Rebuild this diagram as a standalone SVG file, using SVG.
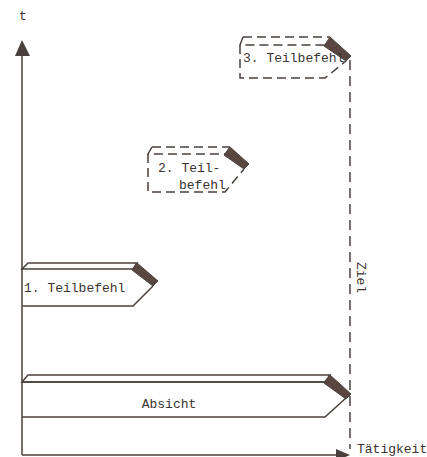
<svg xmlns="http://www.w3.org/2000/svg" width="427" height="457" viewBox="0 0 427 457">
<style>
.ln{fill:none;stroke:#4a403c;stroke-width:1.5}
.fc{fill:#fff;stroke:#4a403c;stroke-width:1.5}
.ds{fill:none;stroke:#4a403c;stroke-width:1.5;stroke-dasharray:9 5}
.dk{fill:#5a4640;stroke:#4a403c;stroke-width:1}
.tx{font-family:"Liberation Mono",monospace;font-size:13px;fill:#3a3330}
</style>
<rect width="427" height="457" fill="#fff"/>
<g id="connectors">
<line class="ln" x1="22" y1="455" x2="22" y2="55"/>
<polygon points="22,40 15,56 30,56" fill="#4a403c"/>
<line class="ln" x1="22" y1="455" x2="338" y2="455"/>
<polygon points="350,455 336,449 336,461" fill="#4a403c"/>
<line class="ln" x1="350" y1="60" x2="350" y2="449" stroke-dasharray="10 6"/>
</g>
<g id="axis-labels">
<text class="tx" x="19" y="20">t</text>
<text class="tx" x="357" y="453">Tätigkeit</text>
<text class="tx" transform="translate(357,262) rotate(90)">Ziel</text>
</g>
<g id="absicht">
<polygon class="fc" points="22,382 28,375 330,375 325,382"/>
<polyline class="ln" points="22,382 325,382"/>
<polyline class="ln" points="22,417 325,417 346,398"/>
<polygon class="dk" points="324,383 330,375 351,394 346,399"/>
<text class="tx" x="169" y="408" text-anchor="middle">Absicht</text>
</g>
<g id="teilbefehl1">
<polygon class="fc" points="22,269 28,263 137,263 133,269"/>
<polyline class="ln" points="22,306 133,306 153,286"/>
<polygon class="dk" points="132,270 137,263 158,281 153,286"/>
<text class="tx" x="24" y="292">1. Teilbefehl</text>
</g>
<g id="teilbefehl2">
<polyline class="ds" points="152,147 230,147"/>
<polyline class="ds" points="152,147 148,154 225,154"/>
<polyline class="ds" points="148,154 148,192 225,192 244,169"/>
<polygon class="dk" points="224,155 230,147 249,164 244,169"/>
<text class="tx" x="158" y="172">2. Teil-</text>
<text class="tx" x="179" y="189">befehl</text>
</g>
<g id="teilbefehl3">
<polyline class="ds" points="243,37 330,37"/>
<polyline class="ds" points="243,37 240,45 325,45"/>
<polyline class="ds" points="240,45 240,78 325,78 346,61"/>
<polygon class="dk" points="324,46 330,37 351,56 346,61"/>
<text class="tx" x="243" y="62">3. Teilbefehl</text>
</g>
</svg>
